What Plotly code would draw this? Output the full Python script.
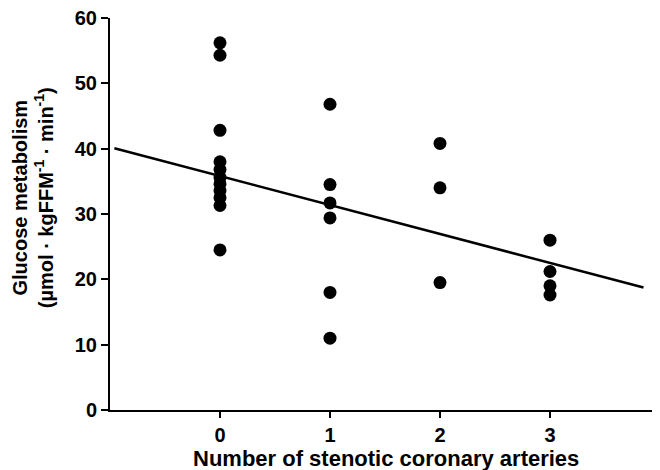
import plotly.graph_objects as go

# Data
vessels_0 = [56.2, 54.3, 42.8, 38.0, 36.8, 35.6, 34.6, 33.6, 32.5, 31.3, 24.5]
vessels_1 = [46.8, 34.5, 31.7, 29.4, 18.0, 11.0]
vessels_2 = [40.8, 34.0, 19.5]
vessels_3 = [26.0, 21.2, 19.0, 17.6]
groups = [0, 1, 2, 3]
y_ticks = [0, 10, 20, 30, 40, 50, 60]
fit_x = [-0.96, 3.85]
fit_intercept = 35.8
fit_slope = -4.43

xs, ys = [], []
for g, vals in zip(groups, [vessels_0, vessels_1, vessels_2, vessels_3]):
    xs += [g] * len(vals)
    ys += vals

fig = go.Figure()
fig.add_trace(go.Scatter(
    x=fit_x, y=[fit_intercept + fit_slope * v for v in fit_x],
    mode="lines", line=dict(color="black", width=2.5), hoverinfo="skip"))
fig.add_trace(go.Scatter(
    x=xs, y=ys, mode="markers",
    marker=dict(color="black", size=13, line=dict(width=0))))

fam = "Liberation Sans, Arial, sans-serif"
tickfont = dict(family=fam, size=20, color="black", weight="bold")
ytitlefont = dict(family=fam, size=20, color="black", weight="bold")
xtitlefont = dict(family=fam, size=22, color="black", weight="bold")

# the page body has an 8px margin, so the figure is sized 652x462
fig.update_layout(
    width=652, height=462,
    margin=dict(l=102, r=0, t=10, b=60),
    paper_bgcolor="white", plot_bgcolor="white",
    showlegend=False,
    xaxis=dict(range=[-1, 4], tickvals=groups, ticktext=[str(g) for g in groups],
               showgrid=False, zeroline=False, showline=True, linecolor="black", linewidth=2,
               ticks="outside", ticklen=6, tickwidth=1.5, tickcolor="black",
               tickfont=tickfont, automargin=False, ticklabeloverflow="allow"),
    yaxis=dict(range=[0, 60], tickvals=y_ticks,
               showgrid=False, zeroline=False, showline=True, linecolor="black", linewidth=2,
               ticks="outside", ticklen=7, tickwidth=1.5, tickcolor="black",
               tickfont=tickfont, automargin=False, ticklabeloverflow="allow"),
    annotations=[
        dict(text="Number of stenotic coronary arteries", xref="paper", yref="paper",
             x=0.502, y=-0.124, xanchor="center", yanchor="middle", showarrow=False,
             font=xtitlefont),
        dict(text="Glucose metabolism<br>(µmol · kgFFM<sup>-1</sup> · min<sup>-1</sup>)",
             xref="paper", yref="paper", x=(25 - 102) / 550, y=0.543,
             xanchor="center", yanchor="middle", textangle=-90, showarrow=False,
             font=ytitlefont),
    ],
)
fig.write_html("out.html")
